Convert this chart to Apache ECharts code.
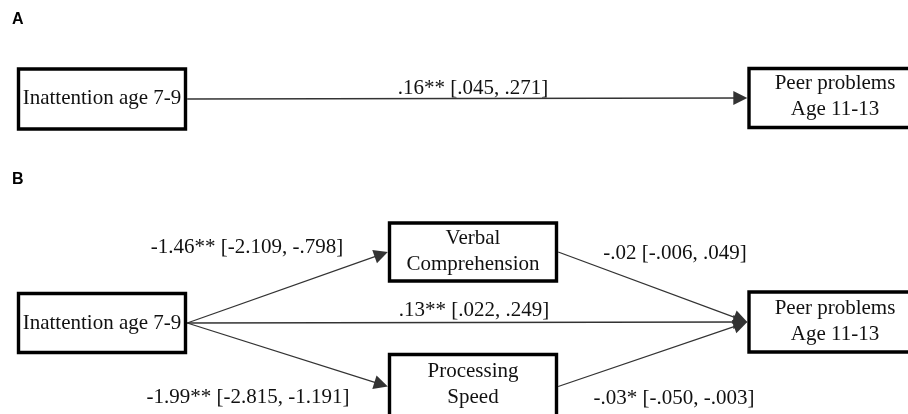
<!DOCTYPE html>
<html><head><meta charset="utf-8">
<script src="https://cdn.jsdelivr.net/npm/echarts@6/dist/echarts.min.js"></script>
<style>html,body{margin:0;padding:0;background:#fff}#c{width:908px;height:414px}</style>
</head><body><div id="c"></div>
<script>
// ---- data ----
const panelTitles = ['A', 'B'];
const nodeIds = ['inA', 'peerA', 'inB', 'verbal', 'proc', 'peerB'];
const nodeLabels = ['Inattention age 7-9', 'Peer problems\nAge 11-13', 'Inattention age 7-9',
  'Verbal\nComprehension', 'Processing\nSpeed', 'Peer problems\nAge 11-13'];
const edgeFrom = ['inA', 'inB', 'inB', 'inB', 'verbal', 'proc'];
const edgeTo = ['peerA', 'verbal', 'peerB', 'proc', 'peerB', 'peerB'];
const edgeLabels = ['.16** [.045, .271]', '-1.46** [-2.109, -.798]', '.13** [.022, .249]',
  '-1.99** [-2.815, -1.191]', '-.02 [-.006, .049]', '-.03* [-.050, -.003]'];

// ---- layout (diagram coordinates) ----
const nodeLayout = {
  inA: { cx: 102, cy: 99, w: 167, h: 60, ty: -1 },
  peerA: { cx: 835, cy: 98, w: 172, h: 59, ty: -2 },
  inB: { cx: 102, cy: 323, w: 167, h: 59, ty: 0 },
  verbal: { cx: 473, cy: 252, w: 167, h: 58, ty: -1 },
  proc: { cx: 473, cy: 386.5, w: 167, h: 64, ty: -2 },
  peerB: { cx: 835, cy: 322, w: 172, h: 60, ty: -1 }
};
const edgeLabelPos = [[473, 88], [247, 247], [474, 310], [248, 397], [675, 253], [674, 398]];
const titlePos = [[12, 12], [12, 172]];
const BORDER = 3.4;
const ARROW = [12, 14];
const FONT = 'Liberation Serif';

const boxData = nodeIds.map((id, i) => {
  const L = nodeLayout[id];
  return { value: [L.cx, L.cy], name: nodeLabels[i], id: id };
});

const lineData = edgeFrom.map((f, i) => {
  const s = nodeLayout[f], t = nodeLayout[edgeTo[i]];
  const x1 = s.cx + s.w / 2 + BORDER / 2, y1 = s.cy;
  const tx = t.cx - t.w / 2 - BORDER / 2, ty = t.cy;
  const dx = tx - x1, dy = ty - y1, len = Math.hypot(dx, dy);
  const x2 = tx - dx / len * ARROW[1] / 2, y2 = ty - dy / len * ARROW[1] / 2;
  return { coords: [[x1, y1], [x2, y2]] };
});

const labelData = edgeLabels.map((t, i) => ({ value: edgeLabelPos[i], name: t }));

const chart = echarts.init(document.getElementById('c'), null, { renderer: 'canvas' });
chart.setOption({
  backgroundColor: '#fff',
  animation: false,
  title: panelTitles.map((t, i) => ({
    text: t, left: titlePos[i][0], top: titlePos[i][1], padding: 0,
    textStyle: { fontFamily: 'Liberation Sans', fontSize: 16, fontWeight: 'bold', color: '#000' }
  })),
  grid: { left: 0, right: 0, top: 0, bottom: 0 },
  xAxis: { type: 'value', min: 0, max: 908, show: false },
  yAxis: { type: 'value', min: 0, max: 414, inverse: true, show: false },
  series: [
    {
      type: 'lines', coordinateSystem: 'cartesian2d', z: 2,
      symbol: ['none', 'triangle'], symbolSize: ARROW,
      lineStyle: { color: '#333', width: 1.3, opacity: 1, curveness: 0 },
      itemStyle: { color: '#000' },
      data: lineData, silent: true
    },
    {
      type: 'custom', z: 3, clip: false, silent: true,
      data: boxData,
      renderItem: function (params, api) {
        const d = boxData[params.dataIndex];
        const L = nodeLayout[d.id];
        const c = api.coord([api.value(0), api.value(1)]);
        return {
          type: 'group',
          children: [
            {
              type: 'rect',
              shape: { x: c[0] - L.w / 2, y: c[1] - L.h / 2, width: L.w, height: L.h },
              style: { fill: '#fff', stroke: '#000', lineWidth: BORDER }
            },
            {
              type: 'text',
              style: {
                text: d.name, x: c[0], y: c[1] + L.ty, align: 'center', verticalAlign: 'middle',
                fontFamily: FONT, fontSize: 21, lineHeight: 26, fill: '#111'
              }
            }
          ]
        };
      }
    },
    {
      type: 'custom', z: 4, clip: false, silent: true,
      data: labelData,
      renderItem: function (params, api) {
        const c = api.coord([api.value(0), api.value(1)]);
        return {
          type: 'text',
          style: {
            text: labelData[params.dataIndex].name, x: c[0], y: c[1],
            align: 'center', verticalAlign: 'middle',
            fontFamily: FONT, fontSize: 21, fill: '#111'
          }
        };
      }
    }
  ]
});
</script></body></html>
